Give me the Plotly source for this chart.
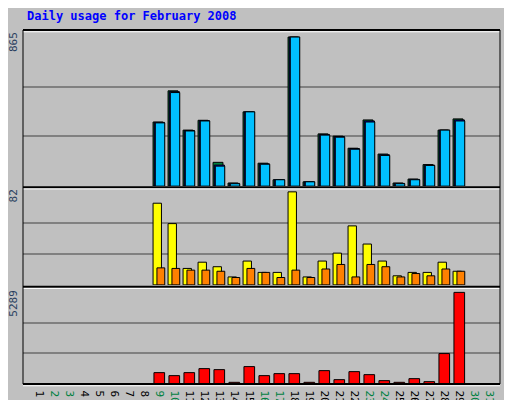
import plotly.graph_objects as go

days = list(range(1, 32))
d = list(range(9, 30))
pages = [367, 543, 320, 378, 116, 14, 431, 127, 37, 865, 25, 296, 284, 214, 372, 178, 14, 37, 120, 325, 378]
files = [370, 548, 323, 380, 122, 16, 431, 129, 37, 865, 25, 300, 288, 218, 378, 182, 16, 39, 122, 325, 384]
hits = [372, 553, 325, 382, 138, 18, 431, 133, 37, 865, 25, 303, 290, 220, 384, 186, 18, 41, 125, 325, 390]
visits = [72, 54, 14.5, 20, 16, 7, 21, 11, 11, 82, 7, 21, 28, 52, 36, 21, 8, 11, 11, 20, 12]
sites = [15, 14.5, 13, 13, 12, 6.5, 14.5, 11, 6.5, 13, 6.5, 14, 18, 7, 18, 16, 7, 10, 8, 14, 12]
kbytes = [656, 483, 656, 888, 830, 97, 1004, 483, 598, 598, 97, 772, 251, 714, 540, 193, 97, 309, 135, 1757, 5289]
weekend = {2, 3, 9, 10, 16, 17, 23, 24, 30, 31}

fig = go.Figure()
line = dict(color="black", width=1)
def bar(y, color, off, w, ya):
    fig.add_trace(go.Bar(x=d, y=y, offset=off, width=w, marker=dict(color=color, line=line),
                         yaxis=ya, showlegend=False))
bar(hits, "#008040", -0.53, 0.66, "y")
bar(files, "#0000FF", -0.45, 0.68, "y")
bar(pages, "#00C0FF", -0.38, 0.63, "y")
bar(visits, "#FFFF00", -0.53, 0.56, "y2")
bar(sites, "#FF8000", -0.27, 0.52, "y2")
bar(kbytes, "#FF0000", -0.47, 0.71, "y3")

grid = dict(showgrid=True, gridcolor="#808080", gridwidth=1.5, showticklabels=False,
            zeroline=False, ticks="", fixedrange=True, anchor="x")
fig.update_layout(
    width=512, height=400, barmode="overlay",
    paper_bgcolor="#C0C0C0", plot_bgcolor="#C0C0C0",
    margin=dict(l=15, r=20, t=22, b=24, autoexpand=False),
    font=dict(family="DejaVu Sans Mono", size=11),
    xaxis=dict(range=[-0.2, 31.6], tickvals=days, anchor="y3",
               ticktext=[f"<span style='color:{'#008040' if k in weekend else 'black'}'>{k}</span>" for k in days],
               showgrid=False, zeroline=False, ticks="", tickfont=dict(size=11)),
    yaxis=dict(domain=[0.559, 1], range=[0, 906], tickvals=[865/3, 865*2/3], **grid),
    yaxis2=dict(domain=[0.28, 0.554], range=[0, 85.5], tickvals=[82/3, 82*2/3], **grid),
    yaxis3=dict(domain=[0, 0.271], range=[0, 5538], tickvals=[5289/3, 5289*2/3], **grid),
)
shapes = []
for y0 in [1, 0.556, 0.275, 0]:
    shapes.append(dict(type="line", xref="paper", yref="paper", x0=0, x1=1, y0=y0, y1=y0,
                       line=dict(color="black", width=2)))
    shapes.append(dict(type="line", xref="paper", yref="paper", x0=0, x1=1, y0=y0 - 0.005, y1=y0 - 0.005,
                       line=dict(color="white", width=1)))
shapes.append(dict(type="rect", xref="paper", yref="paper", x0=0, x1=1, y0=0, y1=1,
                   line=dict(color="black", width=1)))
fig.update_layout(shapes=shapes)

ann = [dict(text="<b>Daily usage for February 2008</b>", x=0.005, y=1.04, xanchor="left", yanchor="middle",
            font=dict(color="#0000FF", size=12))]
for txt, y in [("865", 1), ("82", 0.554), ("5289", 0.271)]:
    ann.append(dict(text=txt, x=-0.003, y=y, xanchor="right", yanchor="top", textangle=-90, font=dict(size=11)))
ann.append(dict(text="<span style='color:#00C0FF'>Pages</span> / <span style='color:#0000FF'>Files</span> / <span style='color:#008040'>Hits</span>",
                x=1.003, y=1, xanchor="left", yanchor="top", textangle=-90, font=dict(size=11)))
ann.append(dict(text="<span style='color:#FF8000'>Sites</span> / <span style='color:#FFFF00'>Visits</span>",
                x=1.003, y=0.554, xanchor="left", yanchor="top", textangle=-90, font=dict(size=11)))
ann.append(dict(text="<span style='color:#FF0000'>KBytes</span>",
                x=1.003, y=0.271, xanchor="left", yanchor="top", textangle=-90, font=dict(size=11)))
for a in ann:
    a.update(xref="paper", yref="paper", showarrow=False)
fig.update_layout(annotations=ann)
fig.write_html("out.html")
